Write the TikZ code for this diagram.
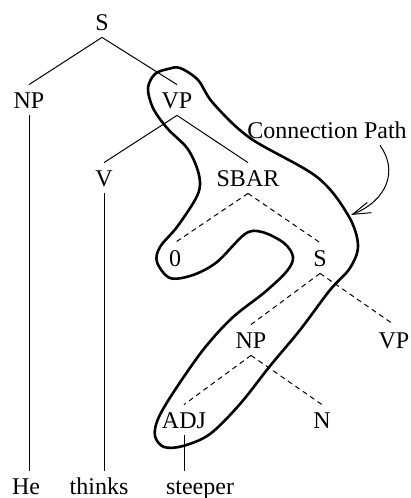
\documentclass[tikz,border=0pt]{standalone}
\usepackage{fontspec}
\setmainfont{Liberation Serif}
\usetikzlibrary{arrows.meta}
\pgfdeclarelayer{nodelayer}
\pgfdeclarelayer{edgelayer}
\pgfsetlayers{edgelayer,nodelayer,main}
\tikzstyle{cat}=[fill=none, draw=none, font=\fontsize{12}{14}\selectfont, text height=8pt, text depth=0pt, inner xsep=2pt, inner ysep=3.5pt]
\tikzstyle{word}=[cat, text depth=2.5pt, anchor=base]
\tikzstyle{tree edge}=[draw=black, line width=0.5pt]
\tikzstyle{dash edge}=[draw=black, line width=0.5pt, dash pattern=on 2.5pt off 2pt]
\tikzstyle{path line}=[draw=black, line width=1.3pt]
\tikzstyle{pointer}=[draw=black, line width=0.5pt, -{Straight Barb[length=9pt,width=5.5pt]}]

\begin{document}
\begin{tikzpicture}[x=0.5pt, y=-0.5pt]
	\useasboundingbox (0,0) rectangle (411,498);
	\begin{pgfonlayer}{nodelayer}
		\node [style=cat] (s) at (102, 22) {S};
		\node [style=cat] (np) at (29, 100) {NP};
		\node [style=cat] (vp) at (177, 100) {VP};
		\node [style=cat] (v) at (104, 178) {V};
		\node [style=cat] (sbar) at (248, 178) {SBAR};
		\node [style=cat] (zero) at (175, 258) {0};
		\node [style=cat] (s2) at (320, 258) {S};
		\node [style=cat] (np2) at (251, 340) {NP};
		\node [style=cat] (vp2) at (394, 340) {VP};
		\node [style=cat] (adj) at (184, 420) {ADJ};
		\node [style=cat] (n) at (322, 420) {N};
		\node [style=word] (he) at (26, 494) {He};
		\node [style=word] (thinks) at (99, 494) {thinks};
		\node [style=word] (steeper) at (200, 494) {steeper};
		\node [style=cat] (lbl) at (327, 130) {Connection Path};
		\coordinate (tip) at (351, 215);
	\end{pgfonlayer}
	\begin{pgfonlayer}{edgelayer}
		\draw [style=tree edge] (s.south) to (np.north);
		\draw [style=tree edge] (s.south) to (vp.north);
		\draw [style=tree edge] (vp.south) to (v.north);
		\draw [style=tree edge] (vp.south) to (sbar.north);
		\draw [style=dash edge] (sbar.south) to (zero.north);
		\draw [style=dash edge] (sbar.south) to (s2.north);
		\draw [style=dash edge] (s2.south) to (np2.north);
		\draw [style=dash edge] (s2.south) to (vp2.north);
		\draw [style=dash edge] (np2.south) to (adj.north);
		\draw [style=dash edge] (np2.south) to (n.north);
		\draw [style=tree edge] (np.south) to (np.south |- he.north);
		\draw [style=tree edge] (v.south) to (v.south |- thinks.north);
		\draw [style=tree edge] (adj.south) to (adj.south |- steeper.north);
		\draw [style=pointer] ([xshift=26.5pt]lbl.south) .. controls (398, 170) and (388, 200) .. (tip);
		% the connection path around VP ... ADJ
		\draw [style=path line] plot [smooth cycle, tension=0.55] coordinates {
			(180,68) (198,80) (213,103) (250,138) (317,177) (348,215) (358,245)
			(350,268) (330,290) (300,330) (270,366) (240,404) (210,434) (183,446)
			(164,447) (155,436) (158,419) (173,393) (203,350) (232,318) (265,292)
			(287,271) (293,257) (284,243) (262,232) (245,234) (217,262) (193,275)
			(170,278) (157,262) (160,247) (177,227) (195,200) (200,185) (197,168)
			(187,148) (167,128) (153,108) (148,88) (155,74) (168,69)};
	\end{pgfonlayer}
\end{tikzpicture}
\end{document}
